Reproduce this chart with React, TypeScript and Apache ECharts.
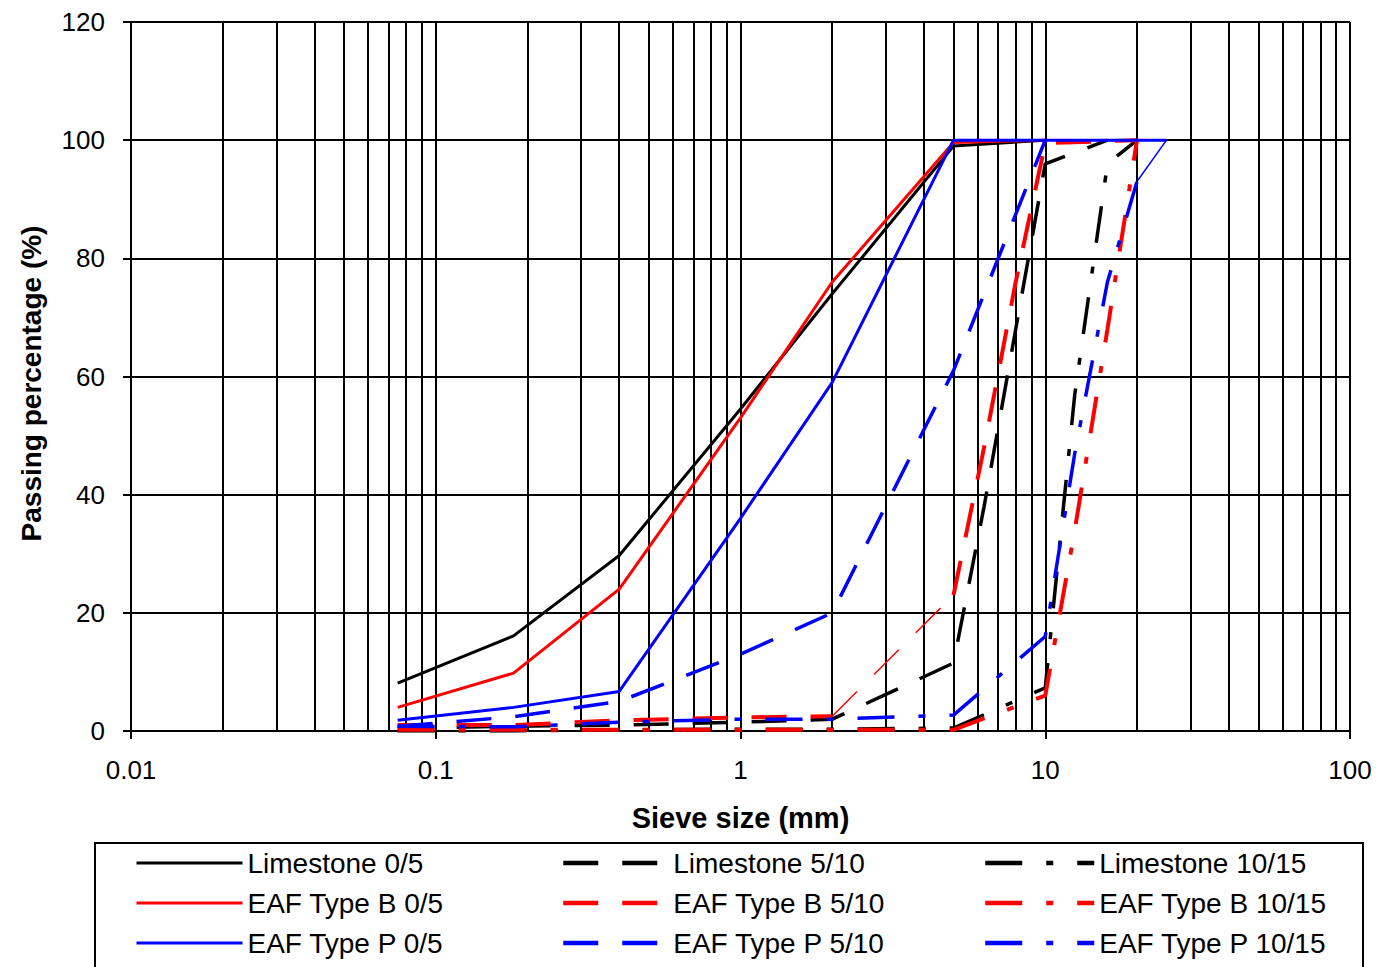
import React, { useEffect, useRef } from "react";
import * as echarts from "echarts";

// ---- data (sieve sizes in mm, passing percentage in %) ----
const X_FINE = [0.075, 0.18, 0.4, 1, 2, 5, 10];
const X_FINE_P = [0.075, 0.18, 0.4, 1, 2, 5, 10, 25];
const X_MID = [0.075, 0.18, 0.4, 1, 2, 5, 6.3, 8, 10, 16];
const X_MID_LOW = [0.075, 0.18, 0.4, 1, 2];
const X_MID_THIN = [2, 5];
const X_MID_HIGH = [5, 6.3, 8, 10, 20];
const X_MID_P = [0.075, 0.18, 0.4, 1, 2, 5, 10];
const X_COARSE = [0.075, 0.18, 0.4, 1, 2, 5, 10, 12.5, 16, 20];
const X_COARSE_THIN = [20, 25];

const LIMESTONE_05 = [8.1, 16.1, 29.7, 54.5, 74, 99, 100];
const EAF_B_05 = [4, 9.8, 24, 53, 76, 99.6, 100];
const EAF_P_05 = [1.8, 4, 6.7, 36, 59, 100, 100, 100];

const LIMESTONE_510 = [0.5, 0.8, 1, 1.5, 2, 11.5, 38, 68, 96, 100];
const EAF_B_510_LOW = [1, 1, 1.8, 2.3, 2.5];
const EAF_B_510_THIN = [2.5, 23];
const EAF_B_510_HIGH = [23, 48, 76, 99.5, 100];
const EAF_P_510 = [0.8, 2.4, 5, 13, 20, 61, 100];

const LIMESTONE_1015 = [0, 0, 0.2, 0.3, 0.3, 0.5, 7.3, 57, 96, 100];
const EAF_B_1015 = [0.2, 0.2, 0.2, 0.2, 0.2, 0.2, 6, 34, 68, 100];
const EAF_P_1015 = [0.8, 0.7, 1.5, 2, 2, 2.7, 16, 47, 76, 93];
const EAF_P_1015_THIN = [93, 100];

const Y_MIN = 0;
const Y_MAX = 120;
const Y_STEP = 20;
const X_MIN = 0.01;
const X_MAX = 100;
const MINOR_GRID = [
  0.02, 0.03, 0.04, 0.05, 0.06, 0.07, 0.08, 0.09,
  0.2, 0.3, 0.4, 0.5, 0.6, 0.7, 0.8, 0.9,
  2, 3, 4, 5, 6, 7, 8, 9,
  20, 30, 40, 50, 60, 70, 80, 90,
];

const LEGEND_COL1 = ["Limestone 0/5", "EAF Type B 0/5", "EAF Type P 0/5"];
const LEGEND_COL2 = ["Limestone 5/10", "EAF Type B 5/10", "EAF Type P 5/10"];
const LEGEND_COL3 = ["Limestone 10/15", "EAF Type B 10/15", "EAF Type P 10/15"];

const FONT = 'Arial, "Liberation Sans", sans-serif';
const BLACK = "#000000";
const RED = "#ff0000";
const BLUE = "#0000ff";
const DASH = [35, 24];
const DASHDOT = [37, 24, 7, 24];

function pairs(xs: number[], ys: number[]) {
  return xs.map((x, i) => [x, ys[i]]);
}

function line(name: string, xs: number[], ys: number[], color: string, type: any, width: number, extra: any = {}) {
  return {
    name,
    type: "line",
    data: pairs(xs, ys),
    symbol: "none",
    showSymbol: false,
    color,
    lineStyle: { color, width, type },
    silent: true,
    ...extra,
  };
}

export default function App() {
  const ref = useRef<HTMLDivElement>(null);

  useEffect(() => {
    document.body.style.margin = "0";
    if (!ref.current) return;
    const chart = echarts.init(ref.current, undefined, { renderer: "svg" });

    const legendBase = {
      orient: "vertical",
      top: 844,
      itemHeight: 14,
      itemGap: 12,
      selectedMode: false,
      itemStyle: { color: "transparent", borderColor: "transparent", borderWidth: 0, opacity: 0 },
      textStyle: { fontSize: 28, color: BLACK, fontFamily: FONT },
    };

    const option: any = {
      animation: false,
      backgroundColor: "#ffffff",
      grid: { left: 131, top: 22, right: 28, bottom: 236, containLabel: false },
      xAxis: {
        type: "log",
        logBase: 10,
        min: X_MIN,
        max: X_MAX,
        name: "Sieve size (mm)",
        nameLocation: "middle",
        nameGap: 72,
        nameTextStyle: { fontSize: 29, fontWeight: "bold", color: BLACK, fontFamily: FONT },
        axisLine: { show: true, onZero: false, lineStyle: { color: BLACK, width: 2 } },
        axisTick: { show: true, inside: false, length: 8, lineStyle: { color: BLACK, width: 2 } },
        axisLabel: {
          fontSize: 26,
          color: BLACK,
          fontFamily: FONT,
          margin: 26,
          formatter: (v: number) => String(v),
        },
        splitLine: { show: true, lineStyle: { color: BLACK, width: 2 } },
        minorTick: { show: false },
      },
      yAxis: {
        type: "value",
        min: Y_MIN,
        max: Y_MAX,
        interval: Y_STEP,
        name: "Passing percentage (%)",
        nameLocation: "middle",
        nameGap: 86,
        nameTextStyle: {
          fontSize: 28,
          fontWeight: "bold",
          color: BLACK,
          fontFamily: FONT,
          padding: [0, 14, 0, 0],
        },
        axisLine: { show: true, lineStyle: { color: BLACK, width: 2 } },
        axisTick: { show: true, inside: false, length: 8, lineStyle: { color: BLACK, width: 2 } },
        axisLabel: { fontSize: 26, color: BLACK, fontFamily: FONT, margin: 26 },
        splitLine: { show: true, lineStyle: { color: BLACK, width: 2 } },
      },
      legend: [
        { ...legendBase, left: 130, itemWidth: 106, data: LEGEND_COL1, lineStyle: { width: 3 } },
        { ...legendBase, left: 556, itemWidth: 105, data: LEGEND_COL2, lineStyle: { width: 4.5 } },
        { ...legendBase, left: 978, itemWidth: 109, data: LEGEND_COL3, lineStyle: { width: 4.5 } },
      ],
      graphic: [
        {
          type: "rect",
          shape: { x: 95, y: 843, width: 1268, height: 160 },
          style: { fill: "none", stroke: BLACK, lineWidth: 2 },
          silent: true,
        },
      ],
      series: [
        line("Limestone 0/5", X_FINE, LIMESTONE_05, BLACK, "solid", 3, {
          markLine: {
            silent: true,
            z: 1,
            symbol: ["none", "none"],
            label: { show: false },
            lineStyle: { color: BLACK, width: 2, type: "solid" },
            data: MINOR_GRID.map((v) => ({ xAxis: v })),
          },
        }),
        line("Limestone 5/10", X_MID, LIMESTONE_510, BLACK, DASH, 3.5),
        line("Limestone 10/15", X_COARSE, LIMESTONE_1015, BLACK, DASHDOT, 3.5),
        line("EAF Type B 0/5", X_FINE, EAF_B_05, RED, "solid", 3),
        line("EAF Type B 5/10", X_MID_LOW, EAF_B_510_LOW, RED, DASH, 4),
        line("EAF Type B 5/10 (2-5 mm)", X_MID_THIN, EAF_B_510_THIN, RED, DASH, 1.5),
        line("EAF Type B 5/10 (5-20 mm)", X_MID_HIGH, EAF_B_510_HIGH, RED, DASH, 4),
        line("EAF Type B 10/15", X_COARSE, EAF_B_1015, RED, DASHDOT, 4),
        line("EAF Type P 5/10", X_MID_P, EAF_P_510, BLUE, DASH, 3.5),
        line("EAF Type P 10/15", X_COARSE, EAF_P_1015, BLUE, DASHDOT, 3.5),
        line("EAF Type P 10/15 (20-25 mm)", X_COARSE_THIN, EAF_P_1015_THIN, BLUE, "solid", 1.5),
        line("EAF Type P 0/5", X_FINE_P, EAF_P_05, BLUE, "solid", 3),
      ],
    };

    chart.setOption(option);
    return () => chart.dispose();
  }, []);

  return <div ref={ref} style={{ width: 1378, height: 967 }} />;
}
